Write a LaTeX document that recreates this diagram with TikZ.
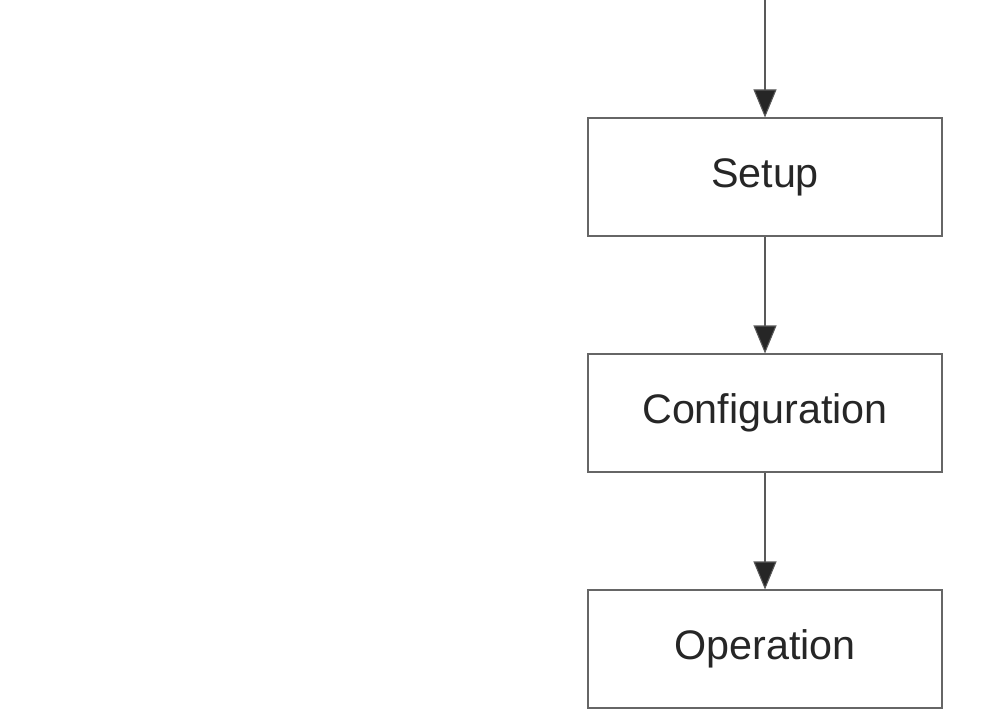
\documentclass[tikz,border=0pt]{standalone}
\usepackage{fontspec}
\setmainfont{Liberation Sans}
\usetikzlibrary{arrows.meta,positioning}
\tikzset{
  stage/.style={draw=black!60, line width=0.6pt, minimum width=7.08cm, minimum height=2.36cm,
    inner sep=0pt, font=\fontsize{23.5}{28}\selectfont, text=black!85},
  flow/.style={draw=black!65, line width=0.6pt, -{Triangle[length=0.56cm,width=0.46cm,fill=black!85]}}
}
\begin{document}
\begin{tikzpicture}
  \useasboundingbox (0,0) rectangle (20.12,14.22);
  %%%%% STAGES %%%%%
  \coordinate (start) at (15.3,14.22);
  \node[stage] (setup) at (15.3,10.68) {Setup};
  \node[stage] (config) at (15.3,5.96) {Configuration};
  \node[stage] (oper) at (15.3,1.24) {Operation};
  %%%%% ARROWS %%%%%
  \draw[flow] (start) -- (setup);
  \draw[flow] (setup) -- (config);
  \draw[flow] (config) -- (oper);
\end{tikzpicture}
\end{document}
